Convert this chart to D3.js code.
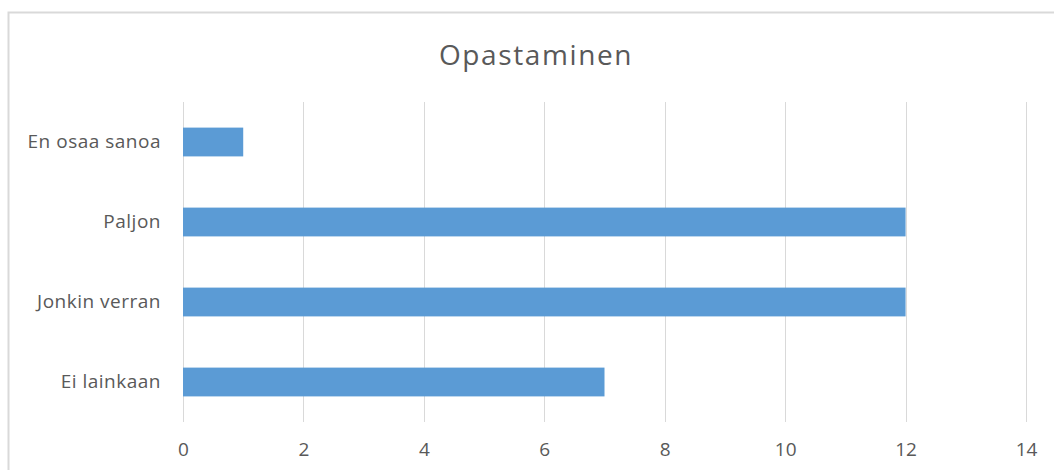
<!DOCTYPE html>
<html>
<head>
<meta charset="utf-8">
<script src="https://cdn.jsdelivr.net/npm/d3@7"></script>
<style>
  body { margin: 0; background: #fff; }
  text { font-family: "Open Sans", "Noto Sans", sans-serif; fill: #595959; }
</style>
</head>
<body>
<script>
// Chart size
var width = 1054,
    height = 470;

// Data, top to bottom as in the chart
const categories = ['En osaa sanoa', 'Paljon', 'Jonkin verran', 'Ei lainkaan'];
const values = [1, 12, 12, 7];
const xTicks = [0, 2, 4, 6, 8, 10, 12, 14];
const title = 'Opastaminen';

// Plot area
const plotLeft = 183, plotRight = 1026, plotTop = 102, plotBottom = 422;

var svg = d3.select('body').append('svg')
    .attr('width', width)
    .attr('height', height);

// outer chart border (only top/left show inside the picture)
svg.append('rect')
    .attr('x', 8.5)
    .attr('y', 12.5)
    .attr('width', width + 20)
    .attr('height', height + 20)
    .attr('fill', 'none')
    .attr('stroke', '#d9d9d9')
    .attr('stroke-width', 2);

var x = d3.scaleLinear()
    .domain([0, 14])
    .range([plotLeft, plotRight]);

var y = d3.scaleBand()
    .domain(categories)
    .range([plotTop, plotBottom])
    .paddingInner(0.64)
    .paddingOuter(0.32);

// vertical gridlines
svg.selectAll('line.grid')
    .data(xTicks)
    .enter()
    .append('line')
    .attr('class', 'grid')
    .attr('x1', function(d) { return Math.round(x(d)) + 0.5; })
    .attr('x2', function(d) { return Math.round(x(d)) + 0.5; })
    .attr('y1', plotTop)
    .attr('y2', plotBottom)
    .attr('stroke', '#d9d9d9')
    .attr('stroke-width', 1);

// bars
svg.selectAll('rect.bar')
    .data(values)
    .enter()
    .append('rect')
    .attr('class', 'bar')
    .attr('fill', '#5b9bd5')
    .attr('x', x(0))
    .attr('y', function(d, i) { return y(categories[i]); })
    .attr('width', function(d) { return x(d) - x(0); })
    .attr('height', y.bandwidth());

// x axis tick labels
var xAxis = d3.axisBottom(x)
    .tickValues(xTicks)
    .tickSize(0)
    .tickPadding(0);

var gx = svg.append('g')
    .attr('transform', 'translate(0,' + (plotBottom + 28) + ')')
    .call(xAxis);
gx.select('.domain').remove();
gx.selectAll('text')
    .attr('dy', '0.32em')
    .style('font-size', '19px')
    .attr('fill', '#595959');

// y axis category labels
var yAxis = d3.axisLeft(y)
    .tickSize(0)
    .tickPadding(22);

var gy = svg.append('g')
    .attr('transform', 'translate(' + plotLeft + ',0)')
    .call(yAxis);
gy.select('.domain').remove();
gy.selectAll('text')
    .style('font-size', '19px')
    .style('letter-spacing', '0.5px')
    .attr('fill', '#595959');

// title
svg.append('text')
    .attr('x', 536)
    .attr('y', 55)
    .attr('text-anchor', 'middle')
    .attr('dy', '0.35em')
    .style('font-size', '28px')
    .style('letter-spacing', '1.6px')
    .text(title);
</script>
</body>
</html>
